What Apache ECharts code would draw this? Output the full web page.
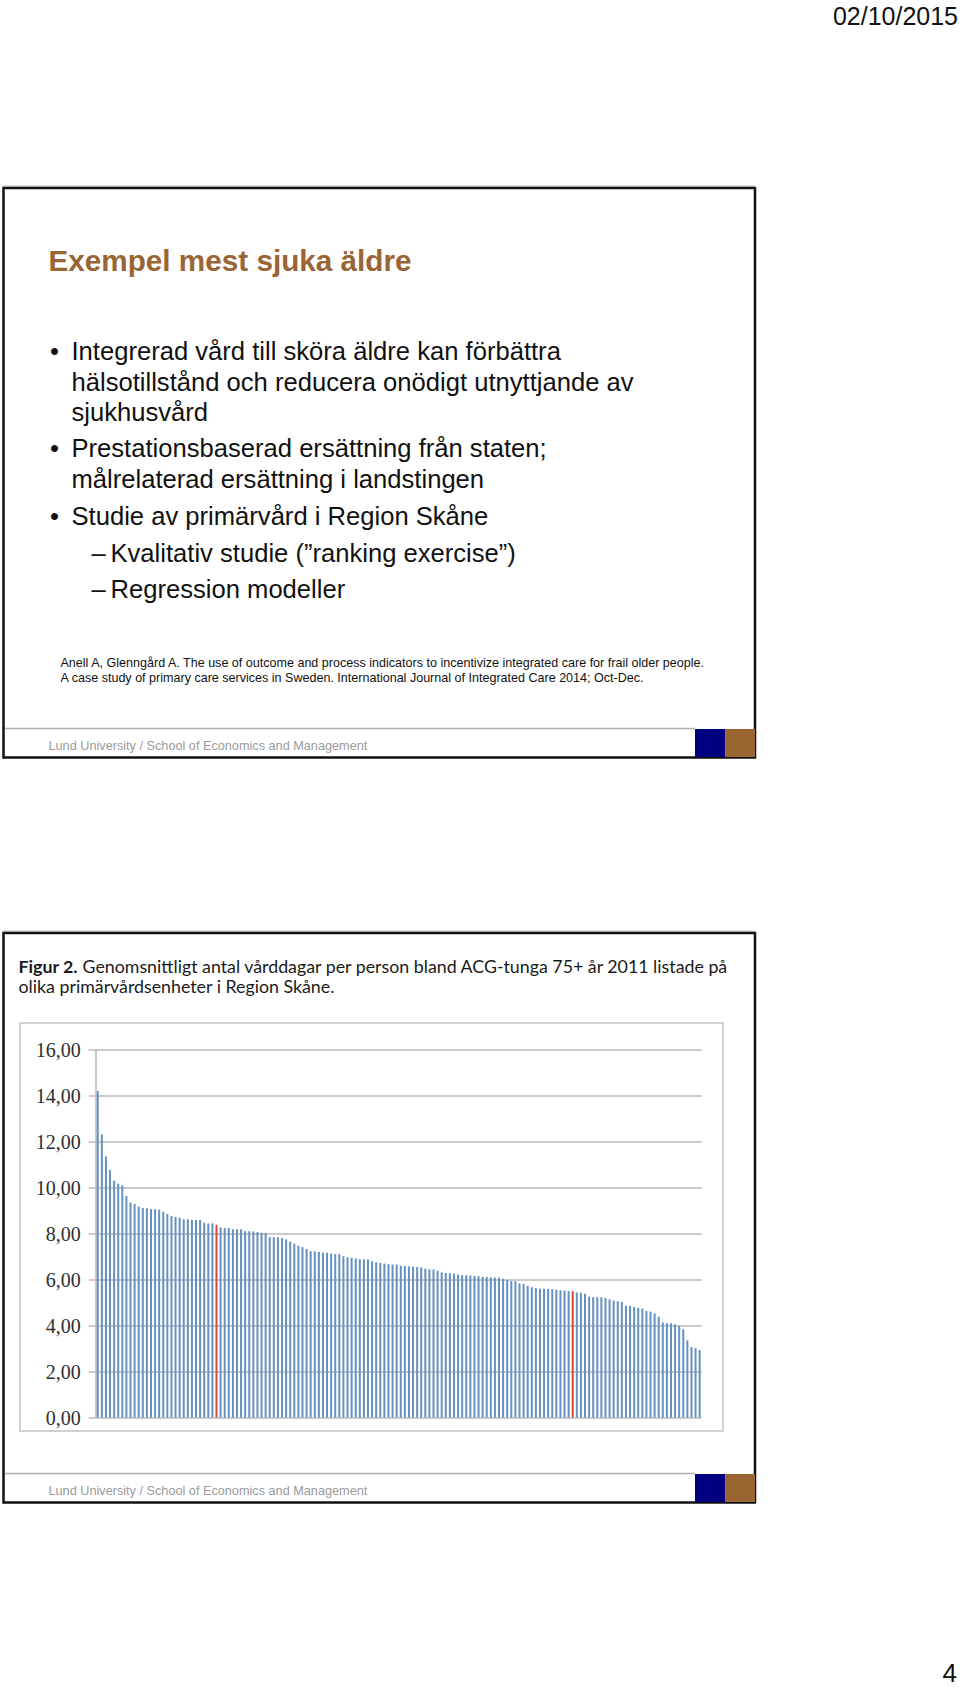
<!DOCTYPE html>
<html>
<head>
<meta charset="utf-8">
<script src="https://cdn.jsdelivr.net/npm/echarts@6/dist/echarts.min.js"></script>
<style>
html,body{margin:0;padding:0;background:#fff;}
#main{width:960px;height:1691px;}
</style>
</head>
<body>
<div id="main"></div>
<script>
// ---- Data ----
const values = [
  14.22, 12.32, 11.36, 10.78, 10.31, 10.18, 10.11, 9.64, 9.36, 9.30,
  9.18, 9.12, 9.11, 9.07, 9.07, 9.05, 8.96, 8.86, 8.77, 8.73,
  8.70, 8.63, 8.63, 8.60, 8.60, 8.60, 8.48, 8.45, 8.45, 8.39,
  8.28, 8.25, 8.25, 8.20, 8.20, 8.19, 8.11, 8.11, 8.10, 8.07,
  8.04, 8.04, 7.85, 7.85, 7.85, 7.81, 7.75, 7.66, 7.57, 7.48,
  7.42, 7.34, 7.24, 7.24, 7.21, 7.18, 7.17, 7.14, 7.12, 7.11,
  7.02, 6.98, 6.95, 6.92, 6.89, 6.89, 6.88, 6.80, 6.76, 6.73,
  6.70, 6.67, 6.66, 6.66, 6.61, 6.60, 6.58, 6.57, 6.55, 6.54,
  6.48, 6.45, 6.44, 6.39, 6.32, 6.29, 6.28, 6.26, 6.23, 6.20,
  6.19, 6.18, 6.16, 6.15, 6.13, 6.12, 6.10, 6.09, 6.09, 6.04,
  5.99, 5.94, 5.93, 5.84, 5.81, 5.73, 5.67, 5.63, 5.61, 5.61,
  5.60, 5.59, 5.56, 5.54, 5.53, 5.51, 5.50, 5.44, 5.43, 5.39,
  5.26, 5.24, 5.24, 5.23, 5.20, 5.14, 5.09, 5.06, 5.03, 4.87,
  4.86, 4.81, 4.77, 4.74, 4.64, 4.61, 4.53, 4.39, 4.14, 4.11,
  4.10, 4.06, 3.99, 3.84, 3.36, 3.07, 3.03, 2.94
];
const categories = values.map((_, i) => 'Enhet ' + (i + 1));
const highlighted = [29, 116];
const yTickLabels = ['0,00', '2,00', '4,00', '6,00', '8,00', '10,00', '12,00', '14,00', '16,00'];

// ---- Slide texts ----
const dateText = '02/10/2015';
const pageNumber = '4';
const slideTitle = 'Exempel mest sjuka äldre';
const bulletLines = [
  ['•', 'Integrerad vård till sköra äldre kan förbättra'],
  ['', 'hälsotillstånd och reducera onödigt utnyttjande av'],
  ['', 'sjukhusvård'],
  ['•', 'Prestationsbaserad ersättning från staten;'],
  ['', 'målrelaterad ersättning i landstingen'],
  ['•', 'Studie av primärvård i Region Skåne']
];
const subBullets = ['Kvalitativ studie (”ranking exercise”)', 'Regression modeller'];
const referenceLines = [
  'Anell A, Glenngård A. The use of outcome and process indicators to incentivize integrated care for frail older people.',
  'A case study of primary care services in Sweden. International Journal of Integrated Care 2014; Oct-Dec.'
];
const footerText = 'Lund University / School of Economics and Management';
const captionBold = 'Figur 2.';
const captionLines = [
  ' Genomsnittligt antal vårddagar per person bland ACG-tunga 75+ år 2011 listade på',
  'olika primärvårdsenheter i Region Skåne.'
];

// ---- Helpers ----
const SANS = '"Liberation Sans", Arial, Helvetica, sans-serif';
const CAP = 'Lato, "Noto Sans", sans-serif';
function txt(str, x, baseline, fs, opt) {
  opt = opt || {};
  return {
    type: 'text', silent: true, z: 10,
    style: {
      text: str, x: x, y: baseline - 0.35 * fs,
      fontSize: fs, fontFamily: opt.family || SANS,
      fontWeight: opt.weight || 'normal',
      fill: opt.fill || '#111',
      align: opt.align || 'left', verticalAlign: 'middle',
      textAlign: opt.align || 'left', textVerticalAlign: 'middle',
      rich: opt.rich
    }
  };
}
function rect(x, y, w, h, style) {
  return { type: 'rect', silent: true, z: 5, shape: { x: x, y: y, width: w, height: h }, style: style };
}
function line(x1, y1, x2, y2, stroke, lw) {
  return { type: 'line', silent: true, z: 5, shape: { x1: x1, y1: y1, x2: x2, y2: y2 }, style: { stroke: stroke, lineWidth: lw } };
}
function slideFrame(dy) {
  return [
    line(3, 186 + dy, 755, 186 + dy, '#bdbdbd', 1),
    rect(3.5, 188 + dy, 751.5, 569.5, { fill: 'none', stroke: '#111', lineWidth: 2.5 }),
    line(5, 728.5 + dy, 695, 728.5 + dy, '#b0b0b0', 1.5),
    rect(695, 729 + dy, 30.5, 28, { fill: '#000080' }),
    rect(725.5, 729 + dy, 29.5, 28, { fill: '#996633' }),
    txt(footerText, 48.5, 750 + dy, 12.7, { fill: '#9a9a9a' })
  ];
}

const graphics = [];
graphics.push(txt(dateText, 958, 24.5, 25, { align: 'right' }));
graphics.push(txt(pageNumber, 957, 1682, 26, { align: 'right' }));

// Slide 1
graphics.push(...slideFrame(0));
graphics.push(txt(slideTitle, 48.5, 271, 29.7, { weight: 'bold', fill: '#9a6535' }));
const bulletBaselines = [360, 390.5, 420.7, 457.3, 487.6, 525];
bulletLines.forEach((b, i) => {
  if (b[0]) graphics.push(txt(b[0], 50, bulletBaselines[i], 25.6));
  graphics.push(txt(b[1], 71.5, bulletBaselines[i], 25.6));
});
const subBaselines = [561.7, 598.3];
subBullets.forEach((s, i) => {
  graphics.push(txt('–', 91.5, subBaselines[i], 25.6));
  graphics.push(txt(s, 110.5, subBaselines[i], 25.6));
});
const refBaselines = [667, 682];
referenceLines.forEach((r, i) => graphics.push(txt(r, 60.5, refBaselines[i], 12.55)));

// Slide 2
const DY = 745;
graphics.push(...slideFrame(DY));
graphics.push(txt('{b|' + captionBold + '}' + captionLines[0], 18.5, 972, 17.8, {
  family: CAP, fill: '#1a1a1a',
  rich: { b: { fontWeight: 'bold', fontSize: 17.8, fontFamily: CAP, fill: '#1a1a1a' } }
}));
graphics.push(txt(captionLines[1], 18.5, 992, 17.8, { family: CAP, fill: '#1a1a1a' }));
graphics.push(rect(20, 1023, 703, 408, { fill: 'none', stroke: '#c2c2c2', lineWidth: 1.5 }));

const chart = echarts.init(document.getElementById('main'), null, { renderer: 'svg' });
const GRID = '#bababa';
chart.setOption({
  animation: false,
  backgroundColor: '#ffffff',
  grid: { left: 95.7, top: 1050, width: 606, height: 367.5, containLabel: false, outerBoundsMode: 'none' },
  xAxis: {
    type: 'category', data: categories,
    axisLine: { show: false }, axisTick: { show: false }, axisLabel: { show: false }, splitLine: { show: false }
  },
  yAxis: {
    type: 'value', min: 0, max: 16, interval: 2,
    axisLine: { show: true, lineStyle: { color: GRID, width: 1.5 } },
    axisTick: { show: true, inside: false, length: 7, lineStyle: { color: GRID, width: 1.5 } },
    axisLabel: {
      margin: 15, fontSize: 20, fontFamily: '"Liberation Serif", "Times New Roman", serif', color: '#2e2e2e',
      formatter: function (v) { return yTickLabels[Math.round(v / 2)]; }
    },
    splitLine: { show: true, lineStyle: { color: GRID, width: 1.6 } }
  },
  series: [{
    type: 'bar', silent: true, barWidth: 2,
    itemStyle: { color: '#6490c2' },
    data: values.map((v, i) => highlighted.indexOf(i) >= 0 ? { value: v, itemStyle: { color: '#d4483b' } } : v)
  }],
  graphic: graphics
});
</script>
</body>
</html>
